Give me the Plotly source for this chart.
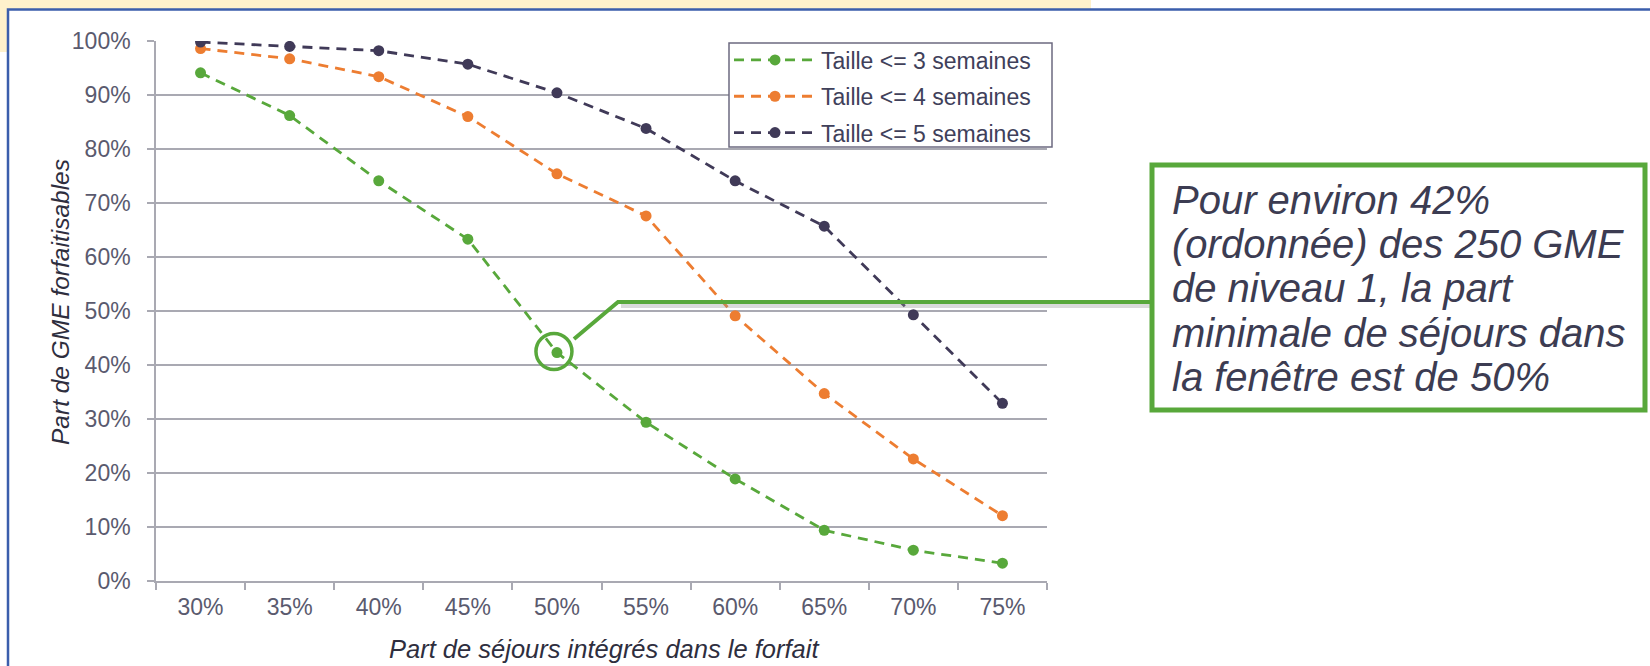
import plotly.graph_objects as go

# Share of stays included in the flat rate (x categories)
categories = ["30%", "35%", "40%", "45%", "50%", "55%", "60%", "65%", "70%", "75%"]

# Share of GME that can be put on a flat rate, per window size (in %)
taille_3 = [94.1, 86.2, 74.1, 63.3, 42.3, 29.4, 18.9, 9.4, 5.7, 3.3]
taille_4 = [98.6, 96.7, 93.4, 86.0, 75.4, 67.6, 49.1, 34.7, 22.6, 12.1]
taille_5 = [99.8, 99.0, 98.2, 95.7, 90.4, 83.8, 74.1, 65.7, 49.3, 32.9]

series_names = ["Taille <= 3 semaines", "Taille <= 4 semaines", "Taille <= 5 semaines"]
series_values = [taille_3, taille_4, taille_5]
series_colors = ["#58A83B", "#ED7D31", "#403A58"]

y_ticks = list(range(0, 101, 10))
y_tick_text = [f"{v}%" for v in y_ticks]

callout_lines = [
    "Pour environ 42%",
    "(ordonnée) des 250 GME",
    "de niveau 1, la part",
    "minimale de séjours dans",
    "la fenêtre est de 50%",
]

W, H = 1650, 666
PL, PR, PT, PB = 156, 1047, 41, 581  # plot area in pixels
FONT = "Liberation Sans, Arial, sans-serif"
GREEN = "#58A83B"
GRID = "#A9A9B2"
TICK_COLOR = "#5A5A6E"
FRAME = "#3B5EAC"


def px(x, y):
    """Pixel position on the page -> paper coordinates."""
    return (x - PL) / (PR - PL), (PB - y) / (PB - PT)


def path(points):
    pts = [px(x, y) for x, y in points]
    return "M " + " L ".join(f"{a},{b}" for a, b in pts)


def rect(x0, y0, x1, y1, **kw):
    a, b = px(x0, y0)
    c, d = px(x1, y1)
    return dict(type="rect", xref="paper", yref="paper", x0=a, y0=b, x1=c, y1=d, **kw)


fig = go.Figure()
for i, (name, vals, col) in enumerate(zip(series_names, series_values, series_colors)):
    fig.add_trace(go.Scatter(
        x=categories, y=vals, name=name, mode="lines+markers",
        legendgroup=f"g{i}",
        line=dict(color=col, width=2.8, dash="10px,7px"),
        marker=dict(color=col, size=11),
    ))

shapes = [
    # light yellow band behind the panel
    rect(0, 0, 1091, 52, fillcolor="#FEF1CC", line=dict(width=0), layer="below"),
    # white panel
    rect(8, 9.5, 1650, 666, fillcolor="white", line=dict(width=0), layer="below"),
    # blue frame: top and left edges
    dict(type="path", xref="paper", yref="paper", path=path([(1650, 9.5), (8, 9.5), (8, 666)]),
         line=dict(color=FRAME, width=2.5), layer="below"),
    # legend box
    rect(729, 43, 1052, 147, fillcolor="white", line=dict(color="#6C6A80", width=1.5)),
    # circle around the highlighted point
    dict(type="circle", xref="x", yref="y", xsizemode="pixel", ysizemode="pixel",
         xanchor=4, yanchor=taille_3[4], x0=-21, x1=15, y0=-17, y1=19,
         line=dict(color=GREEN, width=3.5)),
    # leader line shadow, then leader line
    dict(type="path", xref="paper", yref="paper", path=path([(621, 306), (1152, 306)]),
         line=dict(color="rgba(150,150,150,0.35)", width=4)),
    dict(type="path", xref="paper", yref="paper", path=path([(574, 339), (618, 302), (1152, 302)]),
         line=dict(color=GREEN, width=4)),
    # callout box
    rect(1152, 165, 1645, 410, fillcolor="white", line=dict(color=GREEN, width=5)),
]

annotations = []
for k, txt in enumerate(callout_lines):
    ax, ay = px(1170, 200 + 44.2 * k)
    annotations.append(dict(text=txt, xref="paper", yref="paper", x=ax, y=ay,
                            xanchor="left", yanchor="middle", showarrow=False,
                            font=dict(family=FONT, size=40, color="#3C3C52", style="italic")))

# y axis title
ax, ay = px(60, 302)
annotations.append(dict(text="Part de GME forfaitisables", xref="paper", yref="paper",
                        x=ax, y=ay, textangle=-90, showarrow=False,
                        xanchor="center", yanchor="middle",
                        font=dict(family=FONT, size=24.5, color="#2E2E3E", style="italic")))
# x axis title
ax, ay = px(604, 649)
annotations.append(dict(text="Part de séjours intégrés dans le forfait", xref="paper", yref="paper",
                        x=ax, y=ay, showarrow=False, xanchor="center", yanchor="middle",
                        font=dict(family=FONT, size=25.5, color="#2E2E3E", style="italic")))

lx, ly = px(729, 38.5)
fig.update_layout(
    width=W, height=H,
    margin=dict(l=PL, r=W - PR, t=PT, b=H - PB, pad=0),
    paper_bgcolor="white", plot_bgcolor="rgba(0,0,0,0)",
    font=dict(family=FONT, color=TICK_COLOR),
    shapes=shapes, annotations=annotations,
    legend=dict(x=lx, y=ly, xanchor="left", yanchor="top",
                bgcolor="rgba(0,0,0,0)", borderwidth=0,
                font=dict(family=FONT, size=23, color="#40405A"),
                itemwidth=82, tracegroupgap=3.4, traceorder="grouped"),
    showlegend=True,
)
fig.update_xaxes(type="category", categoryorder="array", categoryarray=categories,
                 range=[-0.5, 9.5], tickson="boundaries", ticks="outside", ticklen=7,
                 tickcolor=GRID, tickwidth=1.5, showline=True, linecolor=GRID, linewidth=1.5,
                 showgrid=False, tickfont=dict(size=23, color=TICK_COLOR),
                 ticklabelstandoff=5, fixedrange=True)
fig.update_yaxes(range=[0, 100], tickvals=y_ticks, ticktext=y_tick_text,
                 ticks="outside", ticklen=7, tickcolor=GRID, tickwidth=1.5,
                 showline=True, linecolor=GRID, linewidth=1.5,
                 showgrid=True, gridcolor=GRID, gridwidth=1.5, zeroline=False,
                 tickfont=dict(size=23, color=TICK_COLOR), ticklabelstandoff=12,
                 fixedrange=True)

fig.write_html("out.html")
